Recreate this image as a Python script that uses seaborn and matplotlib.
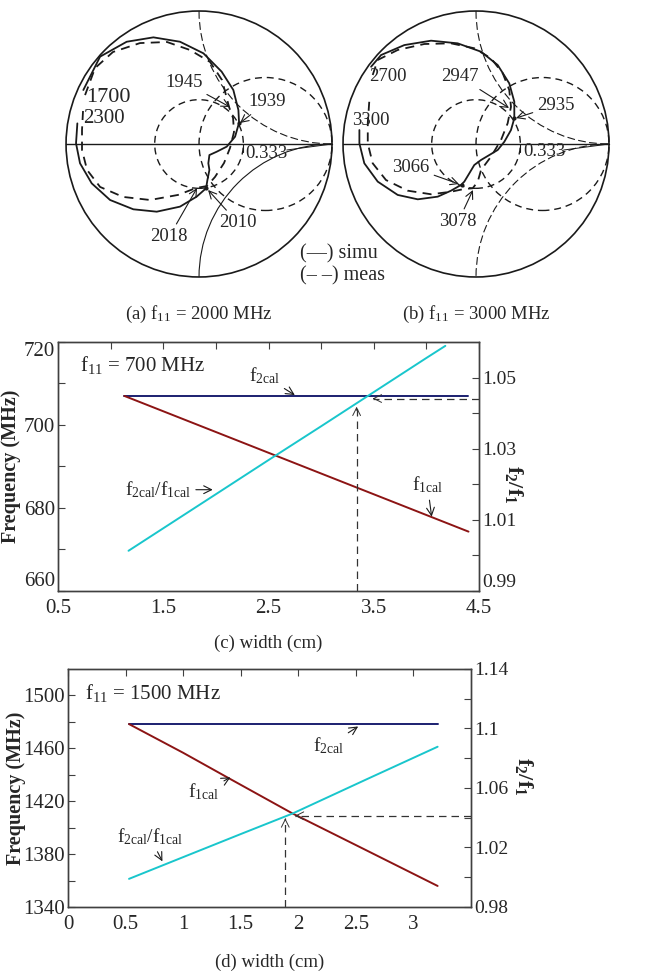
import matplotlib
matplotlib.use('Agg')
import matplotlib.pyplot as plt
import seaborn as sns
from matplotlib.patches import Circle, Arc

# ---- Smith chart loci (reflection coefficient, real / imag) ----
a_simu_re = [-0.870, -0.744, -0.544, -0.343, -0.143, 0.033, 0.170, 0.258, 0.296, 0.301,
             0.271, 0.208, 0.133, 0.078, 0.070, 0.078, 0.063, 0.053, -0.018, -0.143,
             -0.318, -0.494, -0.669, -0.807, -0.895, -0.925, -0.915]
a_simu_im = [0.406, 0.657, 0.769, 0.802, 0.769, 0.682, 0.544, 0.406, 0.256, 0.160,
             0.055, -0.020, -0.058, -0.083, -0.145, -0.195, -0.271, -0.333, -0.396, -0.471,
             -0.509, -0.491, -0.421, -0.296, -0.145, 0.005, 0.155]
a_meas_re = [-0.857, -0.782, -0.647, -0.444, -0.241, -0.068, 0.083, 0.173, 0.226, 0.256,
             0.263, 0.233, 0.188, 0.120, 0.060, -0.023, -0.158, -0.368, -0.571, -0.744,
             -0.842, -0.880, -0.880, -0.872]
a_meas_im = [0.368, 0.571, 0.692, 0.759, 0.767, 0.707, 0.617, 0.481, 0.278, 0.195,
             0.090, -0.030, -0.143, -0.248, -0.316, -0.331, -0.383, -0.421, -0.398, -0.323,
             -0.195, -0.045, 0.105, 0.256]

b_simu_re = [-0.789, -0.714, -0.539, -0.338, -0.138, 0.038, 0.163, 0.250, 0.288, 0.288,
             0.263, 0.213, 0.163, 0.100, 0.038, -0.013, -0.050, -0.088, -0.113, -0.188,
             -0.288, -0.438, -0.589, -0.739, -0.840, -0.877, -0.877]
b_simu_im = [0.581, 0.669, 0.744, 0.777, 0.757, 0.694, 0.594, 0.456, 0.318, 0.193,
             0.105, 0.017, -0.045, -0.083, -0.120, -0.158, -0.220, -0.283, -0.308, -0.351,
             -0.396, -0.416, -0.383, -0.283, -0.145, 0.005, 0.105]
b_meas_re = [-0.777, -0.739, -0.589, -0.389, -0.188, -0.013, 0.113, 0.201, 0.250, 0.263,
             0.238, 0.188, 0.113, 0.038, 0.013, -0.025, -0.088, -0.188, -0.338, -0.514,
             -0.677, -0.777, -0.814, -0.814, -0.802]
b_meas_im = [0.519, 0.632, 0.707, 0.752, 0.757, 0.720, 0.644, 0.532, 0.406, 0.280,
             0.156, 0.030, -0.095, -0.195, -0.283, -0.333, -0.338, -0.359, -0.378, -0.351,
             -0.271, -0.145, 0.005, 0.156, 0.331]

# ---- (c) f11 = 700 MHz ----
c_w_f2 = [1.13, 4.40]
c_f2cal = [707.0, 707.0]
c_w_f1 = [1.13, 2.0, 2.5, 3.0, 3.5, 4.0, 4.40]
c_f1cal = [707.0, 698.3, 693.3, 688.3, 683.3, 678.3, 674.3]
c_w_ratio = [1.17, 2.0, 2.5, 3.0, 3.5, 4.0, 4.18]
c_ratio = [1.0013, 1.0172, 1.0268, 1.0363, 1.0459, 1.0555, 1.0589]

# ---- (d) f11 = 1500 MHz ----
d_w_f2 = [0.53, 3.21]
d_f2cal = [1478.0, 1478.0]
d_w_f1 = [0.53, 1.0, 1.4, 1.95, 2.59, 3.21]
d_f1cal = [1478.3, 1456.6, 1437.2, 1410.7, 1382.9, 1355.9]
d_w_ratio = [0.53, 1.0, 1.5, 1.95, 2.59, 3.21]
d_ratio = [0.9989, 1.0135, 1.0290, 1.0428, 1.0657, 1.0877]

NAVY = '#1b1f70'
DARKRED = '#8c1414'
CYAN = '#19c6cc'
SPINE = '#404040'


def draw_smith(ax, simu_re, simu_im, meas_re, meas_im, lower_dashed):
    dash = (0, (5, 3.5))
    ax.set_xlim(-1.05, 1.05)
    ax.set_ylim(-1.05, 1.05)
    ax.set_aspect('equal')
    ax.axis('off')
    ax.add_patch(Circle((0, 0), 1, fill=False, lw=1.2, color='k'))
    ax.plot([-1, 1], [0, 0], color='k', lw=1.0)
    ax.add_patch(Circle((0.5, 0), 0.5, fill=False, lw=1.0, ls=dash, color='k'))
    ax.add_patch(Circle((0, 0), 1 / 3, fill=False, lw=1.0, ls=dash, color='k'))
    ax.add_patch(Arc((1, 1), 2, 2, theta1=180, theta2=270, lw=0.8, ls=(0, (7, 3)), color='k'))
    ax.add_patch(Arc((1, -1), 2, 2, theta1=90, theta2=180, lw=0.8,
                     ls=(0, (7, 3)) if lower_dashed else '-', color='k'))
    ax.plot([1 / 3, 1 / 3], [0, -0.06], color='k', lw=0.8)
    ax.plot([0.66, 1.0], [-0.045, 0.0], color='k', lw=0.7)
    sns.lineplot(x=simu_re, y=simu_im, sort=False, estimator=None, ax=ax,
                 color='k', lw=1.3)
    sns.lineplot(x=meas_re, y=meas_im, sort=False, estimator=None, ax=ax,
                 color='k', lw=1.3, linestyle=(0, (5, 3.5)))


def label(ax, txt, xytext, xy=None, size=13.5):
    if xy is None:
        ax.text(xytext[0], xytext[1], txt, ha='center', va='center', fontsize=size)
    else:
        ax.annotate(txt, xy=xy, xytext=xytext, ha='center', va='center', fontsize=size,
                    arrowprops=dict(arrowstyle='->', lw=0.8, color='k', shrinkA=1, shrinkB=0))


def style_axes(ax, ax2):
    for a in (ax, ax2):
        for s in a.spines.values():
            s.set_color(SPINE)
            s.set_linewidth(1.0)
    ax.tick_params(axis='both', which='both', direction='in', top=True, right=False,
                   length=5, width=0.8, color=SPINE, labelsize=15, pad=2)
    ax.tick_params(axis='x', pad=6)
    ax2.tick_params(axis='y', which='both', direction='in', length=5, width=0.8,
                    color=SPINE, labelsize=14, pad=2)


def dashed_marker(ax, x0, y0, x1, y1):
    ax.plot([x0, x1], [y0, y1], color='#333333', lw=0.9, ls=(0, (6, 4)))
    ax.annotate('', xy=(x1, y1), xytext=(x1 - (x1 - x0) * 0.02, y1 - (y1 - y0) * 0.02),
                arrowprops=dict(arrowstyle='->', lw=0.7, color='#333333',
                                mutation_scale=14, shrinkA=0, shrinkB=0))


def main():
    sns.set_theme(style='white')
    plt.rcParams['font.family'] = ['Liberation Serif', 'DejaVu Serif']
    plt.rcParams['mathtext.fontset'] = 'custom'
    plt.rcParams['mathtext.rm'] = 'Liberation Serif'
    plt.rcParams['mathtext.it'] = 'Liberation Serif:italic'
    plt.rcParams['mathtext.bf'] = 'Liberation Serif:bold'

    fig = plt.figure(figsize=(6.62, 9.72), dpi=100)

    # Smith charts
    axa = fig.add_axes([0.0897, 0.7082, 0.4219, 0.2873])
    axb = fig.add_axes([0.5081, 0.7082, 0.4219, 0.2873])
    draw_smith(axa, a_simu_re, a_simu_im, a_meas_re, a_meas_im, False)
    draw_smith(axb, b_simu_re, b_simu_im, b_meas_re, b_meas_im, True)

    label(axa, '1700', (-0.680, 0.346), size=16)
    label(axa, '2300', (-0.715, 0.195), size=15)
    label(axa, '1945', (-0.113, 0.466), (0.233, 0.278))
    label(axa, '1939', (0.511, 0.316), (0.308, 0.158))
    label(axa, '0.333', (0.504, -0.068))
    label(axa, '2018', (-0.226, -0.699), (-0.015, -0.331))
    label(axa, '2010', (0.293, -0.594), (0.068, -0.346))
    axa.plot([0.301, 0.053], [0.160, -0.333], 'k.', ms=4)

    label(axb, '2700', (-0.662, 0.504))
    label(axb, '3300', (-0.789, 0.180))
    label(axb, '2947', (-0.120, 0.504), (0.248, 0.271))
    label(axb, '2935', (0.602, 0.293), (0.301, 0.195))
    label(axb, '0.333', (0.511, -0.060))
    label(axb, '3066', (-0.489, -0.173), (-0.128, -0.301))
    label(axb, '3078', (-0.135, -0.586), (-0.023, -0.346))
    axb.plot([0.288, -0.103], [0.193, -0.308], 'k.', ms=4)

    fig.text(300 / 662, 1 - 254 / 972, '(\u2014) simu', fontsize=14.5, va='center')
    fig.text(300 / 662, 1 - 276 / 972, '(\u2013 \u2013) meas', fontsize=14.5, va='center')
    fig.text(199 / 662, 1 - 314 / 972, '(a) f$_{11}$ = 2000 MHz', fontsize=13.5,
             ha='center', va='center')
    fig.text(476 / 662, 1 - 314 / 972, '(b) f$_{11}$ = 3000 MHz', fontsize=13.5,
             ha='center', va='center')

    # (c)
    axc = fig.add_axes([0.0876, 0.392, 0.636, 0.2562])
    sns.lineplot(x=c_w_f2, y=c_f2cal, color=NAVY, lw=1.4, ax=axc)
    sns.lineplot(x=c_w_f1, y=c_f1cal, color=DARKRED, lw=1.4, ax=axc)
    axc.set_xlim(0.5, 4.5)
    axc.set_ylim(660, 720)
    axc.set_xticks([0.5, 1.5, 2.5, 3.5, 4.5])
    axc.set_xticks([1, 2, 3, 4], minor=True)
    axc.set_yticks([660, 680, 700, 720])
    axc.set_yticks([670, 690, 710], minor=True)
    axc2 = axc.twinx()
    sns.lineplot(x=c_w_ratio, y=c_ratio, color=CYAN, lw=1.4, ax=axc2)
    axc2.set_ylim(0.99, 1.06)
    axc2.set_yticks([0.99, 1.01, 1.03, 1.05])
    axc2.set_yticklabels(['0.99', '1.01', '1.03', '1.05'])
    axc2.set_yticks([1.00, 1.02, 1.04], minor=True)
    style_axes(axc, axc2)
    ylabs = axc.get_yticklabels()
    ylabs[0].set_va('bottom')
    ylabs[-1].set_va('top')
    axc2.get_yticklabels()[0].set_va('bottom')
    axc.set_ylabel('Frequency (MHz)', fontsize=14.5, fontweight='bold')
    axc.yaxis.set_label_coords(-0.088, 0.5)
    axc2.set_ylabel('f$_{\\mathbf{2}}$/f$_{\\mathbf{1}}$', fontsize=16, fontweight='bold',
                    rotation=270)
    axc2.yaxis.set_label_coords(1.11, 0.43)
    axc.set_xlabel('(c) width (cm)', fontsize=13.5, labelpad=12)
    axc.text(0.052, 0.908, 'f$_{11}$ = 700 MHz', transform=axc.transAxes, fontsize=15,
             va='center')
    label(axc, 'f$_{\\mathrm{2cal}}$', (2.46, 711.8), (2.75, 707.2), size=14)
    label(axc, 'f$_{\\mathrm{1cal}}$', (4.01, 685.5), (4.05, 677.9), size=14)
    label(axc, 'f$_{\\mathrm{2cal}}$/f$_{\\mathrm{1cal}}$', (1.45, 684.4), (1.97, 684.4),
          size=14)
    dashed_marker(axc, 3.337, 660, 3.337, 704.4)
    dashed_marker(axc2, 4.5, 1.0441, 3.49, 1.0441)

    # (d)
    axd = fig.add_axes([0.1027, 0.0669, 0.6088, 0.2449])
    sns.lineplot(x=d_w_f2, y=d_f2cal, color=NAVY, lw=1.4, ax=axd)
    sns.lineplot(x=d_w_f1, y=d_f1cal, color=DARKRED, lw=1.4, ax=axd)
    axd.set_xlim(0, 3.5)
    axd.set_ylim(1340, 1520)
    axd.set_xticks([0, 0.5, 1, 1.5, 2, 2.5, 3])
    axd.set_xticklabels(['0', '0.5', '1', '1.5', '2', '2.5', '3'])
    axd.set_yticks([1340, 1380, 1420, 1460, 1500])
    axd.set_yticks([1360, 1400, 1440, 1480], minor=True)
    axd2 = axd.twinx()
    sns.lineplot(x=d_w_ratio, y=d_ratio, color=CYAN, lw=1.4, ax=axd2)
    axd2.set_ylim(0.98, 1.14)
    axd2.set_yticks([0.98, 1.02, 1.06, 1.10, 1.14])
    axd2.set_yticklabels(['0.98', '1.02', '1.06', '1.1', '1.14'])
    axd2.set_yticks([1.00, 1.04, 1.08, 1.12], minor=True)
    style_axes(axd, axd2)
    axd.set_ylabel('Frequency (MHz)', fontsize=14.5, fontweight='bold')
    axd.yaxis.set_label_coords(-0.105, 0.5)
    axd2.set_ylabel('f$_{\\mathbf{2}}$/f$_{\\mathbf{1}}$', fontsize=16, fontweight='bold',
                    rotation=270)
    axd2.yaxis.set_label_coords(1.16, 0.55)
    axd.set_xlabel('(d) width (cm)', fontsize=13.5, labelpad=14)
    axd.text(0.042, 0.899, 'f$_{11}$ = 1500 MHz', transform=axd.transAxes, fontsize=15,
             va='center')
    label(axd, 'f$_{\\mathrm{2cal}}$', (2.26, 1462.0), (2.52, 1476.5), size=14)
    label(axd, 'f$_{\\mathrm{1cal}}$', (1.18, 1427.0), (1.41, 1438.0), size=14)
    label(axd, 'f$_{\\mathrm{2cal}}$/f$_{\\mathrm{1cal}}$', (0.71, 1393.0), (0.82, 1374.5),
          size=14)
    dashed_marker(axd, 1.887, 1340, 1.887, 1407.0)
    dashed_marker(axd2, 3.5, 1.0413, 1.97, 1.0413)

    fig.savefig('out.png', dpi=100)


if __name__ == '__main__':
    main()
